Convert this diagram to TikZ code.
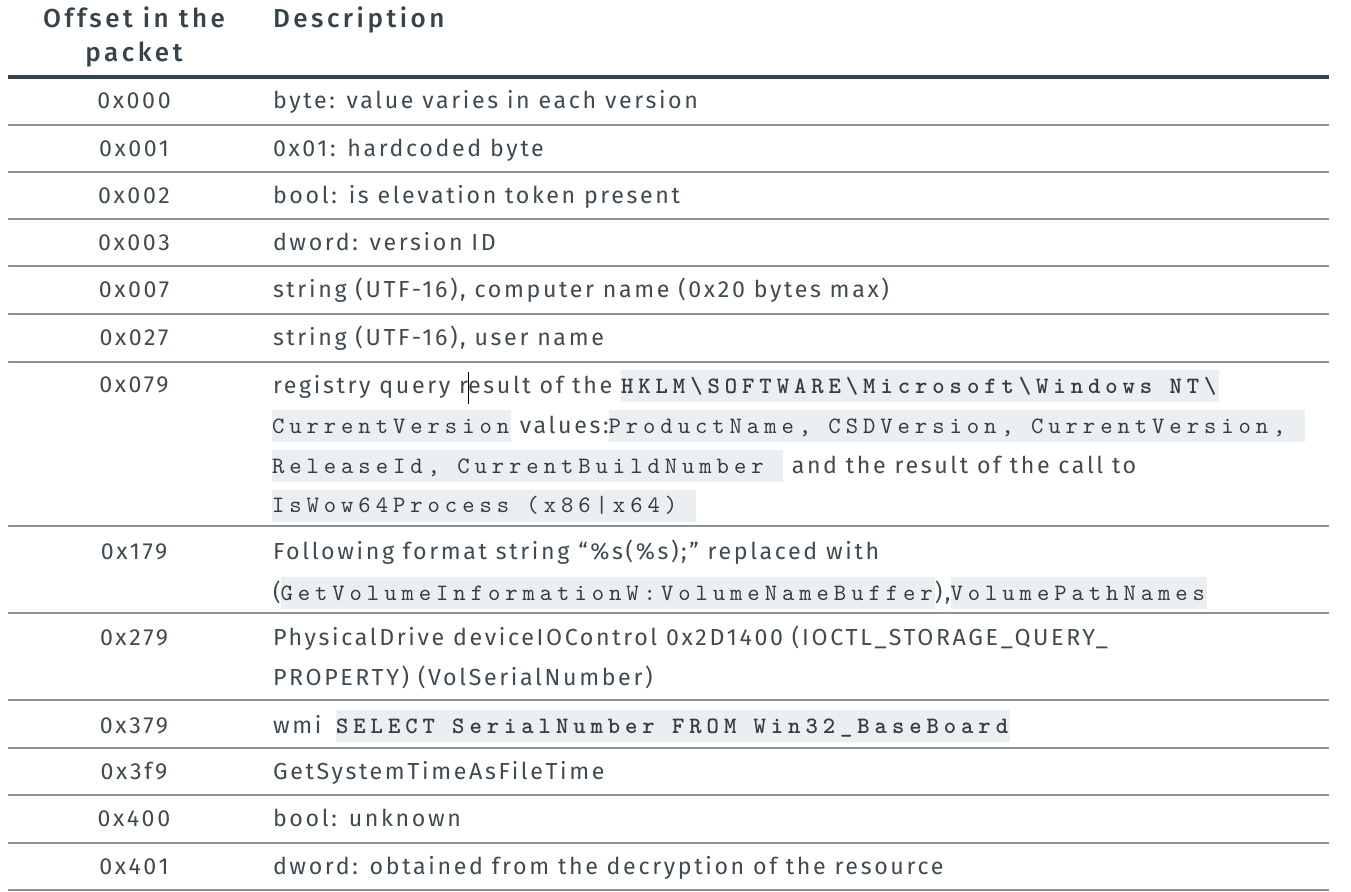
\documentclass[tikz,border=0pt]{standalone}
\usepackage{fontspec}
\setmainfont{Fira Sans}[BoldFont=* Medium, LetterSpace=11.4]
\newfontfamily\codefam{lmmono10-regular.otf}[LetterSpace=21.1]
\newfontfamily\codefamb{lmmonolt10-bold.otf}[LetterSpace=21.1]
\usepackage{xcolor}
\definecolor{txt}{HTML}{3F4A52}
\definecolor{hdr}{HTML}{36434B}
\definecolor{rulec}{HTML}{8A9197}
\definecolor{hrulec}{HTML}{37444C}
\definecolor{codebg}{HTML}{ECEFF1}
\definecolor{codetx}{HTML}{353D42}
\newcommand\bodyfnt{\fontsize{23.2}{23.2}\selectfont}
\newcommand\hdfnt{\fontsize{26}{26}\selectfont\bfseries\addfontfeature{LetterSpace=13.5}}
\newcommand\codefnt{\codefam\fontsize{23.5}{23.5}\selectfont\color{codetx}}
\newcommand\codefntb{\codefamb\fontsize{23.5}{23.5}\selectfont\color{codetx}}
\newcommand\cb[1]{{\setlength{\fboxsep}{0pt}\colorbox{codebg}{\rule[-9pt]{0pt}{32pt}{\codefnt #1}\hspace{2pt}}}}
\newcommand\cbb[1]{{\setlength{\fboxsep}{0pt}\colorbox{codebg}{\rule[-9pt]{0pt}{32pt}{\codefntb #1}\hspace{2pt}}}}
\begin{document}
\begin{tikzpicture}[x=1pt,y=-1pt,
  body/.style={anchor=base west, inner sep=0pt, outer sep=0pt, font=\bodyfnt, text=txt},
  off/.style={anchor=base, inner sep=0pt, outer sep=0pt, font=\bodyfnt, text=txt},
  hd/.style={inner sep=0pt, outer sep=0pt, font=\hdfnt, text=hdr},
  rowline/.style={draw=rulec, line width=2.5pt},
  headline/.style={draw=hrulec, line width=4pt}]
\useasboundingbox (0,0) rectangle (1351,891);
% header
\node[hd, anchor=base] (h1) at (134,28) {Offset in the};
\node[hd, anchor=base] (h2) at (134,62) {packet};
\node[hd, anchor=base west] (h3) at (273,28) {Description};
% rules
\draw[headline] (8,77) -- (1329,77);
\foreach \yy in {125,172,219,266,314,362,526,613,700,748,795,843,890}
  \draw[rowline] (8,\yy) -- (1329,\yy);
% offsets
\node[off] (o0) at (134,108.5) {0x000};
\node[off] (o1) at (134,156) {0x001};
\node[off] (o2) at (134,203) {0x002};
\node[off] (o3) at (134,250) {0x003};
\node[off] (o4) at (134,297.5) {0x007};
\node[off] (o5) at (134,345.5) {0x027};
\node[off] (o6) at (134,392.5) {0x079};
\node[off] (o7) at (134,559) {0x179};
\node[off] (o8) at (134,645) {0x279};
\node[off] (o9) at (134,733.5) {0x379};
\node[off] (o10) at (134,779.5) {0x3f9};
\node[off] (o11) at (134,826.7) {0x400};
\node[off] (o12) at (134,874) {0x401};
% descriptions
\node[body] (d0) at (273,108.5) {byte: value varies in each version};
\node[body] (d1) at (273,156) {0x01: hardcoded byte};
\node[body] (d2) at (273,203) {bool: is elevation token present};
\node[body] (d3) at (273,250) {dword: version ID};
\node[body] (d4) at (273,297.5) {string (UTF-16), computer name (0x20 bytes max)};
\node[body] (d5) at (273,345.5) {string (UTF-16), user name};
\node[body] (d6a) at (273,393) {registry query r\makebox[0pt]{\color{black}\rule[-11pt]{0.9pt}{32pt}}esult of the \cbb{HKLM\textbackslash SOFTWARE\textbackslash Microsoft\textbackslash Windows NT\textbackslash}};
\node[body] (d6b) at (272,433) {\cb{CurrentVersion} values:\cb{ProductName, CSDVersion, CurrentVersion, }};
\node[body] (d6c) at (272,473) {\cb{ReleaseId, CurrentBuildNumber } and the result of the call to};
\node[body] (d6d) at (272,512.5) {\cb{IsWow64Process (x86|x64) }};
\node[body] (d7a) at (273,559) {Following format string “\%s(\%s);” replaced with};
\node[body] (d7b) at (273,600) {(\cb{GetVolumeInformationW:VolumeNameBuffer}),\cb{VolumePathNames}};
\node[body] (d8a) at (273,645) {PhysicalDrive deviceIOControl 0x2D1400 (IOCTL\_STORAGE\_QUERY\_};
\node[body] (d8b) at (273,685) {PROPERTY) (VolSerialNumber)};
\node[body] (d9) at (273,733) {wmi\hspace{6pt} \cbb{SELECT SerialNumber FROM Win32\_BaseBoard}};
\node[body] (d10) at (273,779.5) {GetSystemTimeAsFileTime};
\node[body] (d11) at (273,826.7) {bool: unknown};
\node[body] (d12) at (273,874) {dword: obtained from the decryption of the resource};
\end{tikzpicture}
\end{document}
